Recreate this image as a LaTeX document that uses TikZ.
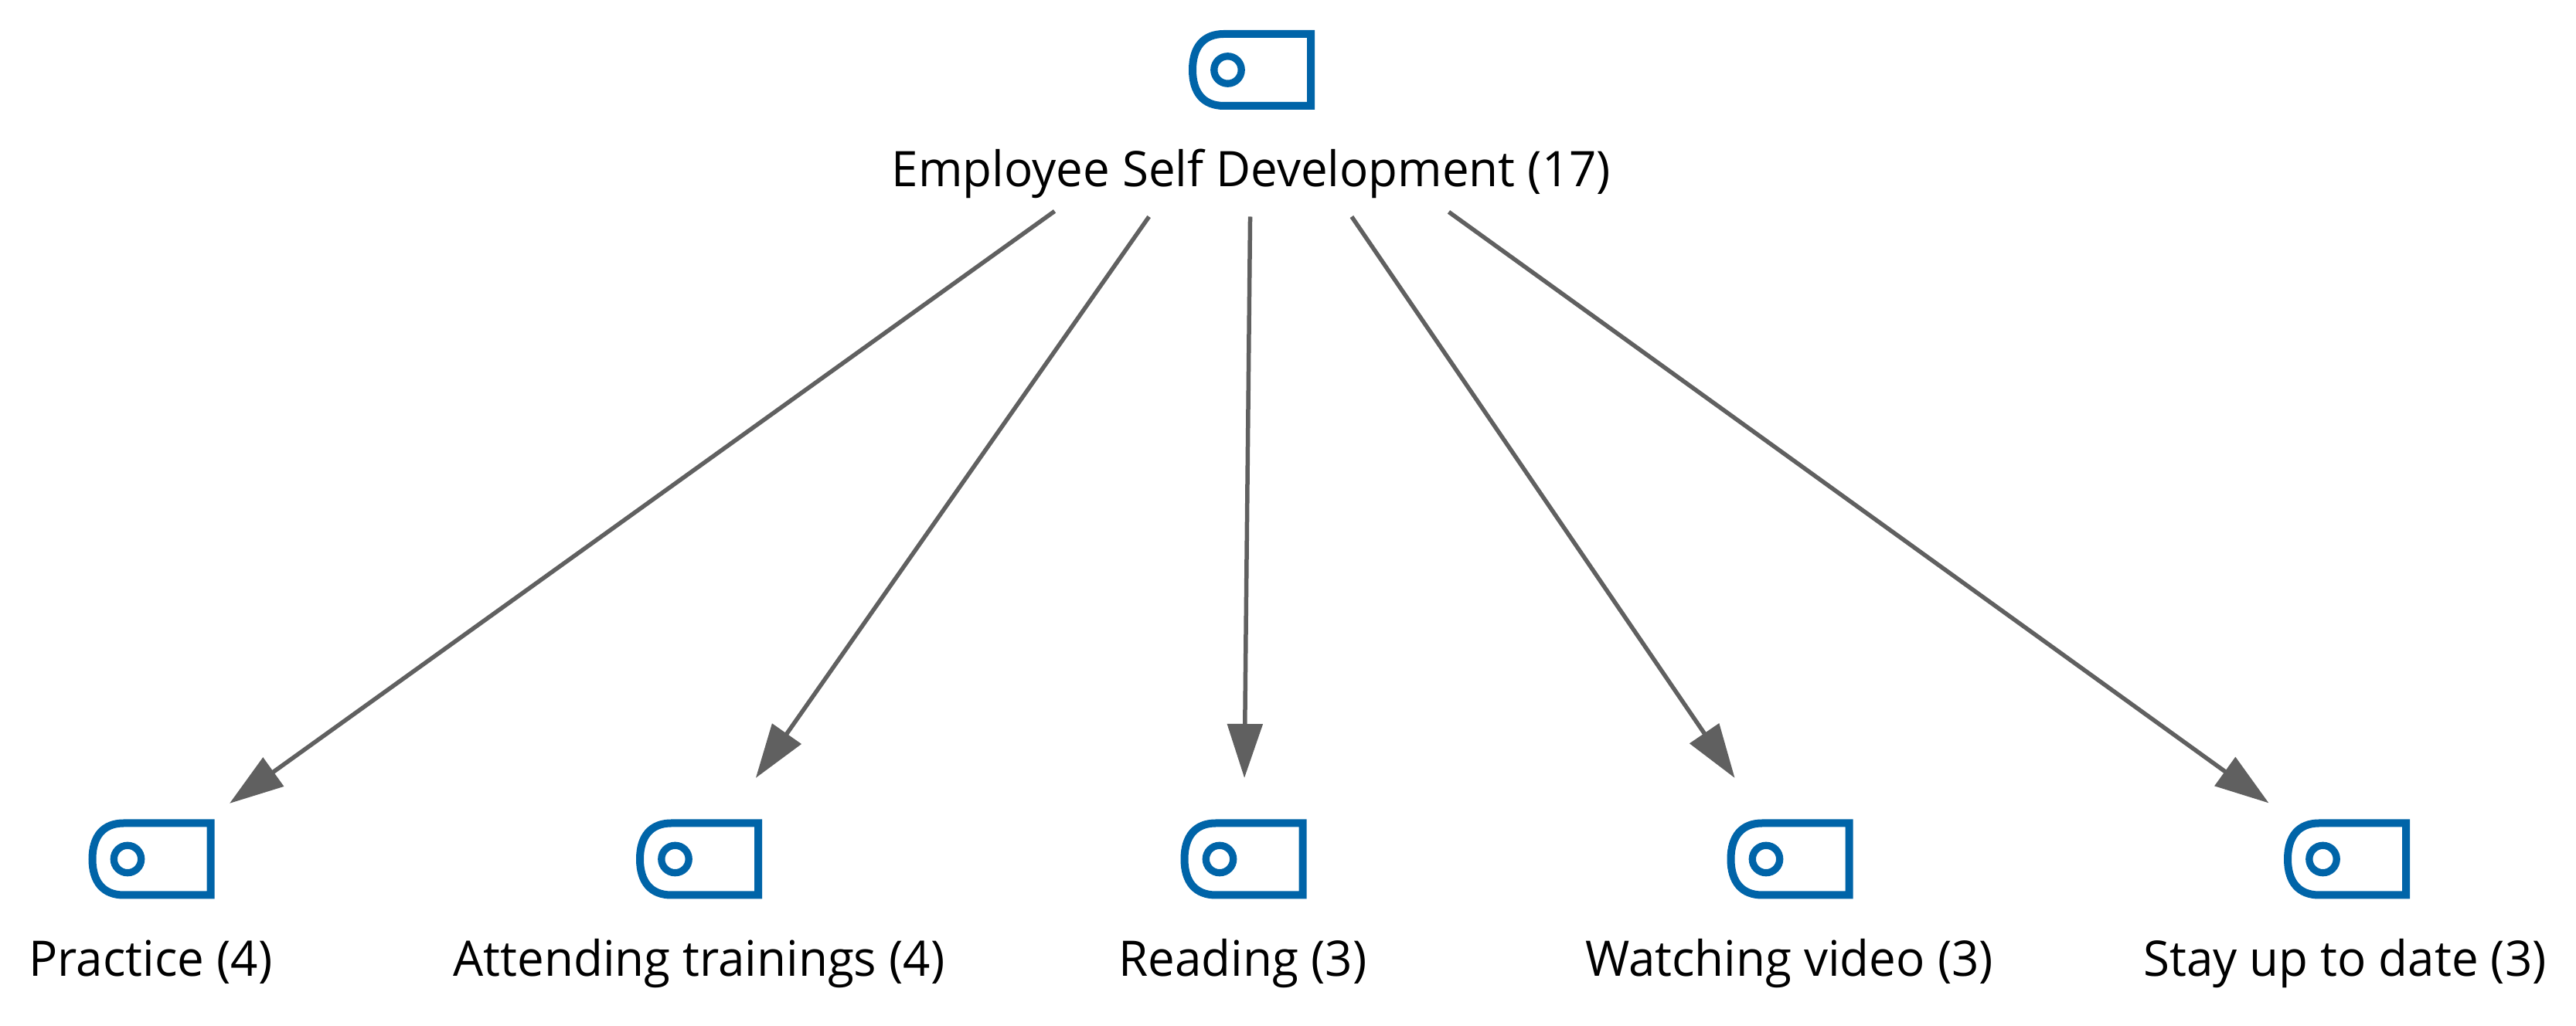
\documentclass[tikz,border=0pt]{standalone}
\usepackage{fontspec}
\setmainfont[FakeStretch=0.975]{Open Sans}
\usepackage{xcolor}
\usetikzlibrary{arrows.meta}
\definecolor{TopicBlue}{RGB}{0,100,168}
\definecolor{LinkGray}{RGB}{96,96,96}
\tikzset{
  topicbox/.style={minimum width=2.02cm, minimum height=2.10cm, inner sep=0pt, outer sep=0pt},
  rootbox/.style={minimum width=5.10cm, minimum height=3.80cm, inner sep=0pt, outer sep=0pt},
  topiclabel/.style={font=\fontsize{18.05}{20}\selectfont, anchor=base, inner sep=0pt, text=black},
  iconline/.style={TopicBlue, line width=1mm},
  link/.style={LinkGray, line width=0.55mm, -{Triangle[length=7mm,width=4.5mm]}},
  topicicon/.pic={
    \draw[iconline] (0.765,0.465) -- (-0.36,0.465) .. controls (-0.62,0.465) and (-0.765,0.30) .. (-0.765,0) .. controls (-0.765,-0.30) and (-0.62,-0.465) .. (-0.36,-0.465) -- (0.765,-0.465) -- cycle;
    \draw[iconline, line width=0.93mm] (-0.31,0) circle (0.177);
  }
}
\begin{document}
\begin{tikzpicture}
\useasboundingbox (0,0) rectangle (33.33,13.28);
\node[rootbox] (root) at (16.195,12.375) {};
\node[topicbox] (practice) at (1.96,2.16) {};
\node[topicbox] (trainings) at (9.045,2.16) {};
\node[topicbox] (reading) at (16.09,2.16) {};
\node[topicbox] (video) at (23.16,2.16) {};
\node[topicbox] (uptodate) at (30.365,2.16) {};
\pic at (root) {topicicon};
\pic at (practice) {topicicon};
\pic at (trainings) {topicicon};
\pic at (reading) {topicicon};
\pic at (video) {topicicon};
\pic at (uptodate) {topicicon};
\node[topiclabel] (rootlabel) at (16.19,10.86) {Employee Self Development (17)};
\node[topiclabel] (practicelabel) at (1.95,0.64) {Practice (4)};
\node[topiclabel] (trainingslabel) at (9.045,0.64) {Attending trainings (4)};
\node[topiclabel] (readinglabel) at (16.08,0.64) {Reading (3)};
\node[topiclabel] (videolabel) at (23.15,0.64) {Watching video (3)};
\node[topiclabel] (uptodatelabel) at (30.34,0.64) {Stay up to date (3)};
\draw[link] (root) -- (practice);
\draw[link] (root) -- (trainings);
\draw[link] (root) -- (reading);
\draw[link] (root) -- (video);
\draw[link] (root) -- (uptodate);
\end{tikzpicture}
\end{document}
